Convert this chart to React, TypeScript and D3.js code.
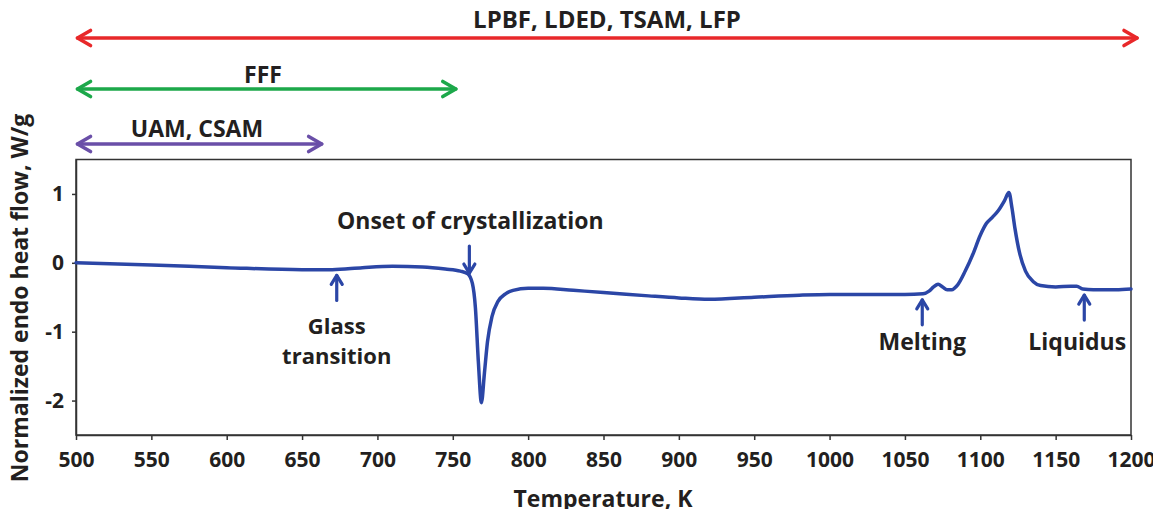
import React, { useEffect, useRef } from "react";
import * as d3 from "d3";

// DSC trace: temperature (K) vs normalized endo heat flow (W/g)
const temperature = [500, 550, 600, 650, 670, 690, 710, 730, 745, 755, 760, 763, 765, 767, 769, 771, 773, 776, 780, 785, 790, 800, 810, 830, 850, 880, 900, 920, 950, 980, 1000, 1030, 1050, 1062, 1066, 1069, 1072, 1075, 1078, 1081, 1085, 1090, 1095, 1100, 1104, 1108, 1112, 1116, 1119, 1121, 1123, 1126, 1130, 1135, 1140, 1150, 1160, 1164, 1168, 1175, 1190, 1200];
const heatFlow = [0, -0.03, -0.07, -0.1, -0.1, -0.07, -0.05, -0.06, -0.09, -0.12, -0.16, -0.3, -0.65, -1.45, -2.03, -1.6, -1.15, -0.78, -0.56, -0.45, -0.4, -0.37, -0.37, -0.4, -0.43, -0.48, -0.51, -0.53, -0.5, -0.47, -0.46, -0.46, -0.46, -0.45, -0.41, -0.35, -0.31, -0.35, -0.39, -0.39, -0.32, -0.12, 0.12, 0.4, 0.57, 0.66, 0.76, 0.9, 1.02, 0.8, 0.5, 0.15, -0.12, -0.27, -0.33, -0.35, -0.34, -0.34, -0.38, -0.39, -0.39, -0.38];

const xTicks = [500, 550, 600, 650, 700, 750, 800, 850, 900, 950, 1000, 1050, 1100, 1150, 1200];
const yTicks = [-2, -1, 0, 1];

// Processing-temperature windows shown as double-headed arrows above the plot
const rangeLabels = ["LPBF, LDED, TSAM, LFP", "FFF", "UAM, CSAM"];
const rangeStart = [500, 500, 500];
const rangeEnd = [1204, 752, 663];
const rangeColors = ["#e8282a", "#1ca84a", "#6a4fa8"];

// Event annotations on the curve
const eventLabels = [["Onset of crystallization"], ["Glass", "transition"], ["Melting"], ["Liquidus"]];
const eventTemps = [761, 673, 1061.5, 1169];
const eventDir = ["down", "up", "up", "up"];

const W = 1161;
const H = 517;
const M = { left: 76, right: 1131, top: 159.5, bottom: 435 };
const FONT = "'Open Sans', 'Noto Sans', sans-serif";
const TEXT = "#231f20";
const LINE = "#2b46a6";
const fmt = (d: number) => String(d);

export default function App() {
  const ref = useRef<SVGSVGElement>(null);

  useEffect(() => {
    const svg = d3.select(ref.current);
    svg.selectAll("*").remove();

    const x = d3.scaleLinear().domain([500, 1200]).range([M.left, M.right]);
    const y = d3.scaleLinear().domain([-2.5, 1.5]).range([M.bottom, M.top]);

    // frame
    svg.append("rect")
      .attr("x", M.left).attr("y", M.top)
      .attr("width", M.right - M.left).attr("height", M.bottom - M.top)
      .attr("fill", "none").attr("stroke", "#333").attr("stroke-width", 1.5);

    const xAxis = svg.append("g")
      .attr("transform", `translate(0,${M.bottom})`)
      .call(d3.axisBottom(x).tickValues(xTicks).tickSize(5).tickSizeOuter(0).tickPadding(12).tickFormat(fmt as any));
    xAxis.select(".domain").attr("stroke", "#333").attr("stroke-width", 1.5);
    xAxis.selectAll(".tick line").attr("stroke", "#333").attr("stroke-width", 1.5);
    xAxis.selectAll("text")
      .attr("font-family", FONT).attr("font-size", 21).attr("font-weight", 700).attr("fill", TEXT);

    const yAxis = svg.append("g")
      .attr("transform", `translate(${M.left},0)`)
      .call(d3.axisLeft(y).tickValues(yTicks).tickSize(4).tickSizeOuter(0).tickPadding(8).tickFormat(fmt as any));
    yAxis.select(".domain").attr("stroke", "#333").attr("stroke-width", 1.5);
    yAxis.selectAll(".tick line").attr("stroke", "#333").attr("stroke-width", 1.5);
    yAxis.selectAll("text")
      .attr("font-family", FONT).attr("font-size", 21).attr("font-weight", 700).attr("fill", TEXT);

    // axis titles
    svg.append("text")
      .attr("x", 603).attr("y", 507)
      .attr("text-anchor", "middle")
      .attr("font-family", FONT).attr("font-size", 23).attr("font-weight", 700).attr("fill", TEXT)
      .text("Temperature, K");
    svg.append("text")
      .attr("transform", `translate(28,298) rotate(-90)`)
      .attr("text-anchor", "middle")
      .attr("font-family", FONT).attr("font-size", 23).attr("font-weight", 700).attr("fill", TEXT)
      .text("Normalized endo heat flow, W/g");

    // curve
    const pts = temperature.map((t, i) => [t, heatFlow[i]] as [number, number]);
    const line = d3.line<[number, number]>()
      .x(d => x(d[0])).y(d => y(d[1]))
      .curve(d3.curveMonotoneX);
    svg.append("path")
      .attr("d", line(pts))
      .attr("fill", "none").attr("stroke", LINE).attr("stroke-width", 3.5)
      .attr("stroke-linejoin", "round").attr("stroke-linecap", "round");

    // range arrows
    const rangeY = [38, 89, 144];
    const labelY = [28, 83, 137];
    const labelX = [607, 263, 197];
    const labelSize = [24, 23, 23];
    rangeLabels.forEach((lab, i) => {
      const x0 = x(rangeStart[i]) + 1.5;
      const x1 = x(rangeEnd[i]);
      const yy = rangeY[i];
      const c = rangeColors[i];
      const g = svg.append("g").attr("stroke", c).attr("stroke-width", 3.6).attr("fill", "none")
        .attr("stroke-linecap", "round").attr("stroke-linejoin", "round");
      g.append("line").attr("x1", x0).attr("x2", x1).attr("y1", yy).attr("y2", yy);
      g.append("path").attr("d", `M${x0 + 13},${yy - 7.5} L${x0},${yy} L${x0 + 13},${yy + 7.5}`);
      g.append("path").attr("d", `M${x1 - 13},${yy - 7.5} L${x1},${yy} L${x1 - 13},${yy + 7.5}`);
      svg.append("text")
        .attr("x", labelX[i]).attr("y", labelY[i])
        .attr("text-anchor", "middle")
        .attr("font-family", FONT).attr("font-size", labelSize[i]).attr("font-weight", 700).attr("fill", TEXT)
        .text(lab);
    });

    // event arrows and labels
    const interp = d3.scaleLinear().domain(temperature).range(heatFlow);
    eventLabels.forEach((lines, i) => {
      const t = eventTemps[i];
      const px = x(t);
      const py = y(interp(t));
      const g = svg.append("g").attr("stroke", LINE).attr("stroke-width", 3.2).attr("fill", "none")
        .attr("stroke-linecap", "round").attr("stroke-linejoin", "round");
      if (eventDir[i] === "down") {
        const tip = py - 4;
        g.append("line").attr("x1", px).attr("x2", px).attr("y1", tip - 27).attr("y2", tip);
        g.append("path").attr("d", `M${px - 5.5},${tip - 9} L${px},${tip} L${px + 5.5},${tip - 9}`);
        svg.append("text")
          .attr("x", px + 1).attr("y", 229)
          .attr("text-anchor", "middle")
          .attr("font-family", FONT).attr("font-size", 23).attr("font-weight", 700).attr("fill", TEXT)
          .text(lines[0]);
      } else {
        const tip = py + 6;
        g.append("line").attr("x1", px).attr("x2", px).attr("y1", tip).attr("y2", tip + 25);
        g.append("path").attr("d", `M${px - 5.5},${tip + 9} L${px},${tip} L${px + 5.5},${tip + 9}`);
        const multi = lines.length > 1;
        const tx = px + (i === 3 ? -7 : 0);
        lines.forEach((ln, k) => {
          svg.append("text")
            .attr("x", tx).attr("y", multi ? 334 + k * 30 : 350)
            .attr("text-anchor", "middle")
            .attr("font-family", FONT).attr("font-size", multi ? 22 : 23).attr("font-weight", 700).attr("fill", TEXT)
            .text(ln);
        });
      }
    });
  }, []);

  return <svg ref={ref} width={W} height={H} style={{ display: "block", margin: -8 }} />;
}
